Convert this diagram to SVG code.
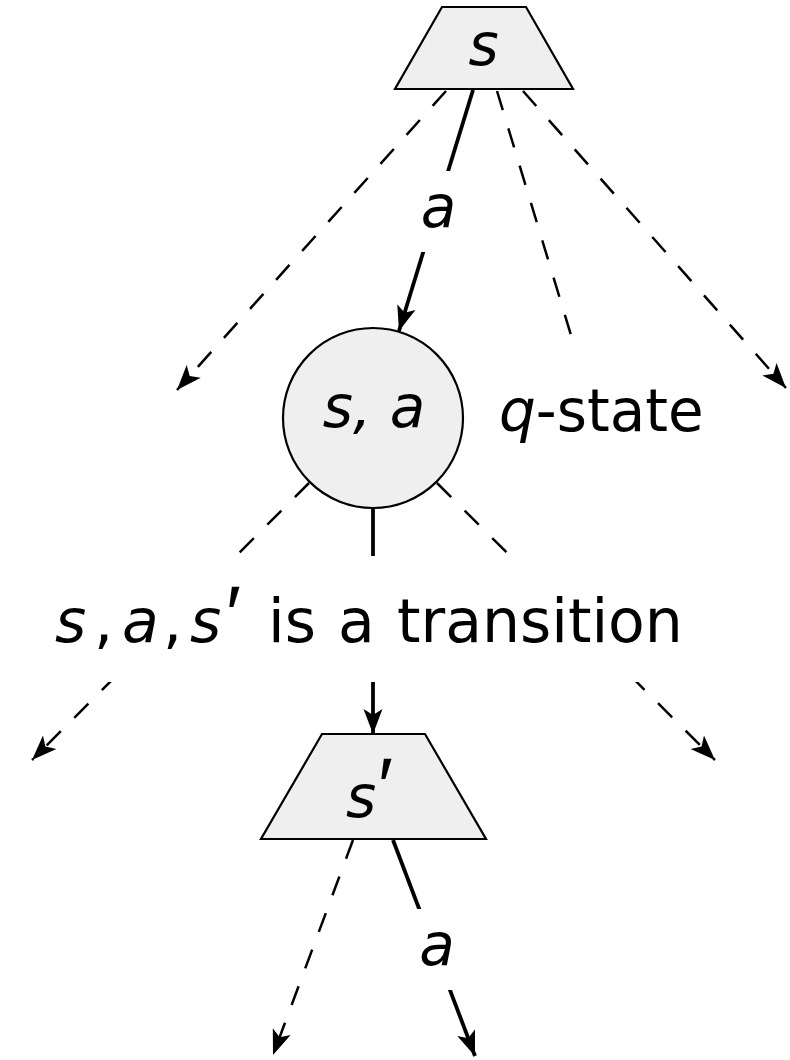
<svg xmlns="http://www.w3.org/2000/svg" width="790" height="1060" viewBox="0 0 790 1060">
<defs>
<style>
.node{fill:#efefef;stroke:#000;stroke-width:2.2}
.solid{fill:none;stroke:#000;stroke-width:3.8}
.dash{fill:none;stroke:#000;stroke-width:2.5;stroke-dasharray:20 19}
.lbl{font-family:"DejaVu Sans","Liberation Sans",sans-serif;font-size:58px;fill:#000}
.it{font-style:oblique}
.pr{font-family:"Liberation Sans",sans-serif;font-size:80px;font-style:normal}
.bg{fill:#fff;stroke:none}
</style>
<marker id="ah" viewBox="-27 -11 28 22" refX="0" refY="0" markerWidth="28" markerHeight="22" markerUnits="userSpaceOnUse" orient="auto">
<path d="M0,0 L-25,-9.5 L-19,0 L-25,9.5 Z" fill="#000"/>
</marker>
</defs>
<rect width="790" height="1060" fill="#fff"/>

<g id="connectors">
<line class="dash" x1="446" y1="91" x2="177" y2="390" marker-end="url(#ah)"/>
<line class="solid" x1="473" y1="90" x2="399" y2="331" marker-end="url(#ah)"/>
<line class="dash" x1="497" y1="91" x2="587" y2="388" marker-end="url(#ah)"/>
<line class="dash" x1="523" y1="91" x2="786" y2="388" marker-end="url(#ah)"/>
<line class="dash" x1="309" y1="483" x2="32" y2="760" marker-end="url(#ah)"/>
<line class="dash" x1="437" y1="483" x2="715" y2="760" marker-end="url(#ah)"/>
<line class="solid" x1="373" y1="508" x2="373" y2="734" marker-end="url(#ah)"/>
<line class="dash" x1="353" y1="840" x2="273" y2="1055" marker-end="url(#ah)"/>
<line class="solid" x1="393" y1="840" x2="475" y2="1056" marker-end="url(#ah)"/>
</g>

<g id="node-s">
<polygon class="node" points="442,7 526,7 573,89 395,89"/>
<text class="lbl it" x="483.5" y="65" text-anchor="middle">s</text>
</g>

<g id="label-a-top">
<rect class="bg" x="414" y="171" width="48" height="81"/>
<text class="lbl it" x="438.5" y="227" text-anchor="middle">a</text>
</g>

<g id="node-sa">
<circle class="node" cx="373" cy="418" r="90"/>
<text class="lbl it" x="374" y="427" text-anchor="middle">s, a</text>
</g>

<g id="label-qstate">
<rect class="bg" x="488" y="352" width="228" height="100"/>
<text class="lbl" x="499" y="431"><tspan class="it">q</tspan>-state</text>
</g>

<g id="label-transition">
<rect class="bg" x="40" y="556" width="665" height="126"/>
<text class="lbl" y="642" style="font-size:60px"><tspan class="it" x="55">s</tspan><tspan x="94">,</tspan><tspan class="it" x="122">a</tspan><tspan x="163">,</tspan><tspan class="it" x="190">s</tspan><tspan class="pr" x="226">′</tspan><tspan x="268">is</tspan><tspan x="338">a</tspan><tspan x="397">transition</tspan></text>
</g>

<g id="node-s2">
<polygon class="node" points="322,734 425,734 486,839 261,839"/>
<text class="lbl it" x="346" y="817">s<tspan class="pr" x="378" y="814">′</tspan></text>
</g>

<g id="label-a-bottom">
<rect class="bg" x="409" y="909" width="50" height="81"/>
<text class="lbl it" x="437" y="965" text-anchor="middle">a</text>
</g>
</svg>
